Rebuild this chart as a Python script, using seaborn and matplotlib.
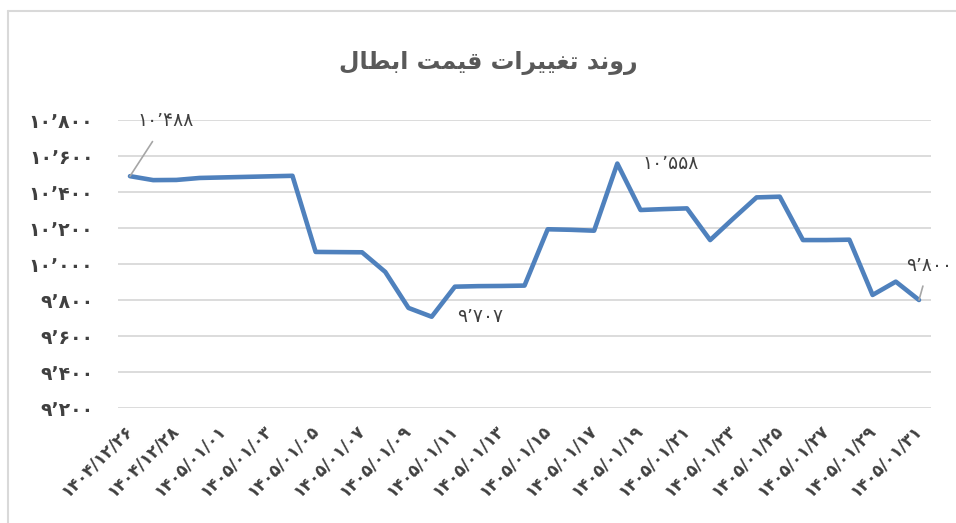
import pandas as pd
import numpy as np
import matplotlib
matplotlib.use("Agg")
import matplotlib.pyplot as plt
import seaborn as sns
from matplotlib.lines import Line2D

# Dates (Jalali) and redemption prices
tarikh = ["1404/12/26", "1404/12/27", "1404/12/28", "1404/12/29",
          "1405/01/01", "1405/01/02", "1405/01/03", "1405/01/04", "1405/01/05",
          "1405/01/06", "1405/01/07", "1405/01/08", "1405/01/09", "1405/01/10",
          "1405/01/11", "1405/01/12", "1405/01/13", "1405/01/14", "1405/01/15",
          "1405/01/16", "1405/01/17", "1405/01/18", "1405/01/19", "1405/01/20",
          "1405/01/21", "1405/01/22", "1405/01/23", "1405/01/24", "1405/01/25",
          "1405/01/26", "1405/01/27", "1405/01/28", "1405/01/29", "1405/01/30",
          "1405/01/31"]
gheymat = [10488, 10466, 10467, 10478, 10481, 10484, 10487, 10490, 10067,
           10066, 10065, 9956, 9756, 9707, 9874, 9877, 9878, 9880, 10193,
           10190, 10185, 10558, 10300, 10305, 10309, 10133, 10253, 10370,
           10374, 10133, 10133, 10135, 9828, 9902, 9800]
y_ticks = [9200, 9400, 9600, 9800, 10000, 10200, 10400, 10600, 10800]
onvan = "روند تغییرات قیمت ابطال"

FA_DIGITS = str.maketrans("0123456789,", "۰۱۲۳۴۵۶۷۸۹٬")


def fa_num(v):
    return f"{int(v):,}".translate(FA_DIGITS)


# minimal Arabic-script shaping (matplotlib has no shaping engine)
FORMS = {
    "ا": ("\uFE8D", "\uFE8E"), "د": ("\uFEA9", "\uFEAA"), "ر": ("\uFEAD", "\uFEAE"),
    "و": ("\uFEED", "\uFEEE"),
    "ب": ("\uFE8F", "\uFE90", "\uFE91", "\uFE92"), "ت": ("\uFE95", "\uFE96", "\uFE97", "\uFE98"),
    "ط": ("\uFEC1", "\uFEC2", "\uFEC3", "\uFEC4"), "غ": ("\uFECD", "\uFECE", "\uFECF", "\uFED0"),
    "ق": ("\uFED5", "\uFED6", "\uFED7", "\uFED8"), "ل": ("\uFEDD", "\uFEDE", "\uFEDF", "\uFEE0"),
    "م": ("\uFEE1", "\uFEE2", "\uFEE3", "\uFEE4"), "ن": ("\uFEE5", "\uFEE6", "\uFEE7", "\uFEE8"),
    "ی": ("\uFBFC", "\uFBFD", "\uFEF3", "\uFEF4"),
}


def shape(txt):
    out = []
    for i, ch in enumerate(txt):
        if ch not in FORMS:
            out.append(ch)
            continue
        prev = txt[i - 1] if i > 0 else " "
        nxt = txt[i + 1] if i + 1 < len(txt) else " "
        joins_prev = prev in FORMS and len(FORMS[prev]) == 4
        joins_next = len(FORMS[ch]) == 4 and nxt in FORMS
        f = FORMS[ch]
        if joins_prev and joins_next:
            out.append(f[3])
        elif joins_next:
            out.append(f[2])
        elif joins_prev:
            out.append(f[1])
        else:
            out.append(f[0])
    return "".join(out)[::-1]


df = pd.DataFrame({"idx": np.arange(len(gheymat)), "gheymat": gheymat})

sns.set_style("white")
plt.rcParams["font.family"] = ["DejaVu Sans"]

fig = plt.figure(figsize=(9.56, 5.23), dpi=100)
ax = fig.add_axes([118.4 / 956, 1 - 408 / 523, 812.2 / 956, 288 / 523])

sns.lineplot(data=df, x="idx", y="gheymat", ax=ax, color="#4F81BD", linewidth=3.3)

ax.set_xlim(-0.5, len(gheymat) - 0.5)
ax.set_ylim(9200, 10800)
ax.set_yticks(y_ticks)
ax.set_yticklabels([fa_num(t) for t in y_ticks], fontsize=13.5, color="#404040",
                   fontweight="bold")
ax.yaxis.grid(True, color="#D9D9D9", linewidth=1.3)
ax.tick_params(axis="y", length=0, pad=18)

pos = list(range(0, len(tarikh), 2))
ax.set_xticks(pos)
ax.set_xticklabels([tarikh[i].translate(FA_DIGITS) for i in pos], rotation=45,
                   ha="right", va="center", rotation_mode="anchor",
                   fontsize=12, color="#404040", fontweight="bold")
ax.tick_params(axis="x", length=0, pad=14)
ax.set_xlabel("")
ax.set_ylabel("")
for s in ax.spines.values():
    s.set_visible(False)

# data labels
lbl = dict(fontsize=13.5, color="#404040")
ax.annotate(fa_num(gheymat[0]), (0, gheymat[0]), xytext=(26, 40), textcoords="offset points",
            ha="center", va="center", arrowprops=dict(arrowstyle="-", color="#A6A6A6", lw=1.2,
                                                      shrinkA=7, shrinkB=0), **lbl)
ax.annotate(fa_num(gheymat[13]), (13, gheymat[13]), xytext=(18, 0), textcoords="offset points",
            ha="left", va="center", **lbl)
ax.annotate(fa_num(gheymat[21]), (21, gheymat[21]), xytext=(18, 0), textcoords="offset points",
            ha="left", va="center", **lbl)
ax.annotate(fa_num(gheymat[34]), (34, gheymat[34]), xytext=(7, 25), textcoords="offset points",
            ha="center", va="center", arrowprops=dict(arrowstyle="-", color="#A6A6A6", lw=1.2,
                                                      shrinkA=6, shrinkB=0), **lbl)

fig.text(488 / 956, 1 - 63 / 523, shape(onvan), ha="center", va="center",
         fontsize=17, fontweight="bold", color="#595959")

# chart-area border
fig.add_artist(Line2D([8 / 956, 8 / 956], [0, 1 - 11 / 523], transform=fig.transFigure,
                      color="#D9D9D9", lw=1.5))
fig.add_artist(Line2D([8 / 956, 1], [1 - 11 / 523, 1 - 11 / 523], transform=fig.transFigure,
                      color="#D9D9D9", lw=1.5))

fig.savefig("out.png", dpi=100, facecolor="white")
